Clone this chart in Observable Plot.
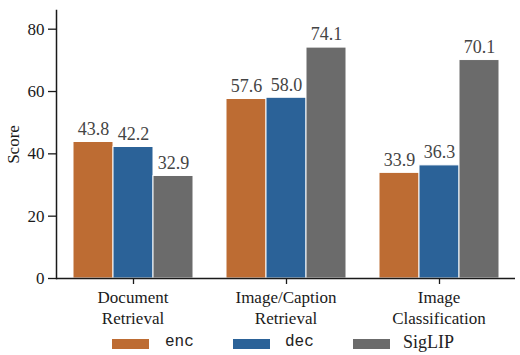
<!DOCTYPE html>
<html><head>
<meta charset="utf-8">
<script src="https://cdn.jsdelivr.net/npm/d3@7"></script>
<script src="https://cdn.jsdelivr.net/npm/@observablehq/plot@0.6"></script>
<style>
body{margin:0;background:#fff}
#wrap{position:relative;width:520px;height:355px;overflow:hidden}
#legend{position:absolute;left:0;top:330px;width:520px;height:25px}
.sw{position:absolute;top:9px;width:37px;height:10px}
.lb{position:absolute;top:2px;color:#222;line-height:20px}
.serif{font-family:"Liberation Serif","Times New Roman","DejaVu Serif",serif}
.mono{font-family:"Liberation Mono","Courier New","DejaVu Sans Mono",monospace}
</style>
</head><body>
<div id="wrap"><div id="chart"></div><div id="legend"></div></div>
<script>
const tasks = ["Document\nRetrieval", "Image/Caption\nRetrieval", "Image\nClassification"];
const models = ["enc", "dec", "SigLIP"];
const enc = [43.8, 57.6, 33.9];
const dec = [42.2, 58.0, 36.3];
const siglip = [32.9, 74.1, 70.1];
const colors = ["#bd6c33", "#2b6298", "#6b6b6b"];
const yTicks = [0, 20, 40, 60, 80];

const series = [enc, dec, siglip];
const data = tasks.flatMap((t, i) => models.map((m, j) => ({task: t, model: m, value: series[j][i]})));

const serif = '"Liberation Serif","Times New Roman","DejaVu Serif",serif';

const chart = Plot.plot({
  width: 520, height: 330,
  marginLeft: 56, marginRight: 5, marginTop: 10, marginBottom: 52,
  style: {fontFamily: serif, fontSize: "17px", color: "#1a1a1a", background: "#fff"},
  fx: {domain: tasks, padding: 0, label: null},
  x: {domain: models, paddingInner: 0, paddingOuter: 0.4125, axis: null},
  y: {domain: [0, 86], label: null},
  color: {domain: models, range: colors},
  marks: [
    Plot.barY(data, {fx: "task", x: "model", y: "value", fill: "model", stroke: "white", strokeWidth: 1}),
    Plot.text(data, {fx: "task", x: "model", y: "value", text: d => d.value.toFixed(1), dy: -13, fill: "#444", fontSize: 18}),
    Plot.axisY({ticks: yTicks, tickSize: 8, tickPadding: 4, fontSize: 17, label: "Score", labelAnchor: "center", labelArrow: "none", labelOffset: 50}),
    Plot.axisX({ticks: ["dec"], tickFormat: () => "", tickSize: 6, label: null}),
    Plot.axisFx({anchor: "bottom", tickSize: 0, tickPadding: 10, fontSize: 17, lineHeight: 1.22, label: null}),
    Plot.ruleY([0], {strokeWidth: 1.5}),
    Plot.frame({anchor: "left", facetAnchor: "left", strokeWidth: 1.5})
  ]
});
document.getElementById("chart").appendChild(chart);

// make sure the axis tick paths are stroked and placed on the y scale
try {
  const ys = chart.scale("y");
  chart.querySelectorAll('g[aria-label$="tick"]').forEach(g => {
    const isY = g.getAttribute("aria-label") === "y-axis tick";
    g.setAttribute("stroke", "#1a1a1a");
    g.setAttribute("stroke-width", "1.3");
    g.setAttribute("stroke-opacity", "1");
    g.querySelectorAll("path,line").forEach((p, i) => {
      p.setAttribute("stroke", "#1a1a1a");
      p.setAttribute("stroke-width", "1.3");
      p.setAttribute("stroke-opacity", "1");
      if (isY && i < yTicks.length && ys) {
        const m = /translate\(([-\d.e]+)[ ,]+([-\d.e]+)\)/.exec(p.getAttribute("transform") || "");
        const x = m ? +m[1] : 56;
        p.setAttribute("transform", `translate(${x},${ys.apply(yTicks[i])})`);
      }
    });
  });
} catch (e) {}

const legend = document.getElementById("legend");
const swX = [112, 233, 353];
const lbX = [165, 285, 403];
models.forEach((m, i) => {
  const s = document.createElement("div");
  s.className = "sw"; s.style.left = swX[i] + "px"; s.style.background = colors[i];
  legend.appendChild(s);
  const l = document.createElement("div");
  l.className = "lb " + (i < 2 ? "mono" : "serif");
  l.style.left = lbX[i] + "px";
  l.style.fontSize = i < 2 ? "16px" : "18px";
  l.textContent = m;
  legend.appendChild(l);
});
</script>
</body></html>
